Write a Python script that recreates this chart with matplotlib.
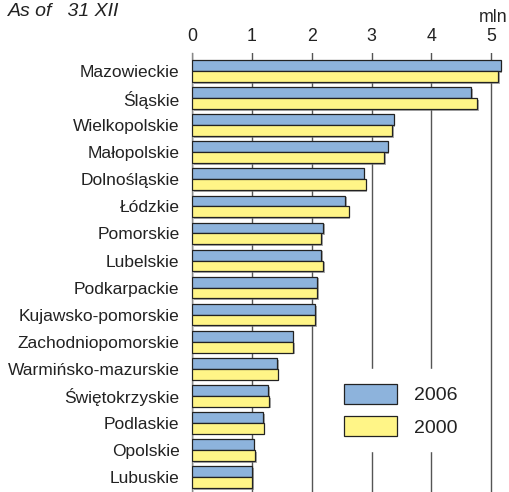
import matplotlib
matplotlib.use("Agg")
import matplotlib.pyplot as plt
import matplotlib.patheffects as pe
from matplotlib.patches import Patch

plt.rcParams["font.family"] = ["Liberation Sans", "DejaVu Sans"]

regions = ["Mazowieckie", "Śląskie", "Wielkopolskie", "Małopolskie", "Dolnośląskie",
           "Łódzkie", "Pomorskie", "Lubelskie", "Podkarpackie", "Kujawsko-pomorskie",
           "Zachodniopomorskie", "Warmińsko-mazurskie", "Świętokrzyskie", "Podlaskie",
           "Opolskie", "Lubuskie"]
pop_2006 = [5.16, 4.66, 3.37, 3.27, 2.87, 2.56, 2.19, 2.16, 2.09, 2.06,
            1.68, 1.42, 1.27, 1.19, 1.03, 1.00]
pop_2000 = [5.11, 4.76, 3.34, 3.21, 2.90, 2.62, 2.16, 2.19, 2.09, 2.06,
            1.69, 1.43, 1.29, 1.20, 1.06, 1.01]
xticks = [0, 1, 2, 3, 4, 5]

BLUE = "#8db3dc"
YELLOW = "#fff587"
EDGE = "#222222"
INK = "#222222"

W, H = 510, 492
fig = plt.figure(figsize=(W / 100, H / 100), dpi=100, facecolor="white")
x0, top = 192, 53
unit = 59.85
xmax = 5.3
ax = fig.add_axes([x0 / W, 0, xmax * unit / W, (H - top) / H])

shadow = [pe.SimplePatchShadow(offset=(1.2, -1.2), shadow_rgbFace="#777777", alpha=0.6),
          pe.Normal()]
h = 0.4
ypos = list(range(len(regions)))
b1 = ax.barh([y - h / 2 for y in ypos], pop_2006, height=h, color=BLUE,
             edgecolor=EDGE, linewidth=0.9, zorder=3)
b2 = ax.barh([y + h / 2 for y in ypos], pop_2000, height=h, color=YELLOW,
             edgecolor=EDGE, linewidth=0.9, zorder=3)
for r in list(b1) + list(b2):
    r.set_path_effects(shadow)

ax.set_xlim(0, xmax)
ax.set_ylim(15.55, -0.665)
ax.set_yticks(ypos)
ax.set_yticklabels(regions, fontsize=12.5, color=INK)
ax.xaxis.tick_top()
ax.set_xticks(xticks)
ax.set_xticklabels([str(t) for t in xticks], fontsize=12.8, color=INK)
ax.tick_params(axis="both", length=0)
ax.tick_params(axis="x", pad=6)
ax.tick_params(axis="y", pad=9)
for lbl in ax.get_yticklabels():
    lbl.set_va("center_baseline")
ax.xaxis.grid(True, color="#555555", linewidth=1.0, zorder=0)
ax.set_axisbelow(True)
for s in ["top", "right", "bottom"]:
    ax.spines[s].set_visible(False)
ax.spines["left"].set_color("#888888")
ax.spines["left"].set_linewidth(1.0)

handles = [Patch(facecolor=BLUE, edgecolor=EDGE, linewidth=0.9, label="2006"),
           Patch(facecolor=YELLOW, edgecolor=EDGE, linewidth=0.9, label="2000")]
leg = ax.legend(handles=handles, loc="upper left",
                bbox_to_anchor=(329 / W, 1 - 369 / H), bbox_transform=fig.transFigure,
                fontsize=14, frameon=True, fancybox=False, framealpha=1,
                handlelength=2.75, handleheight=1.22, handletextpad=0.85,
                labelspacing=0.6, borderpad=0.75, borderaxespad=0)
leg.get_frame().set_facecolor("white")
leg.get_frame().set_edgecolor("white")
for t in leg.get_texts():
    t.set_color(INK)

fig.text(8 / W, 1 - 11 / H, "As of   31 XII", fontsize=14, style="italic",
         color=INK, ha="left", va="center")
fig.text(507 / W, 1 - 18 / H, "mln", fontsize=12.8, color=INK,
         ha="right", va="center")

fig.savefig("out.png", dpi=100, facecolor="white")
